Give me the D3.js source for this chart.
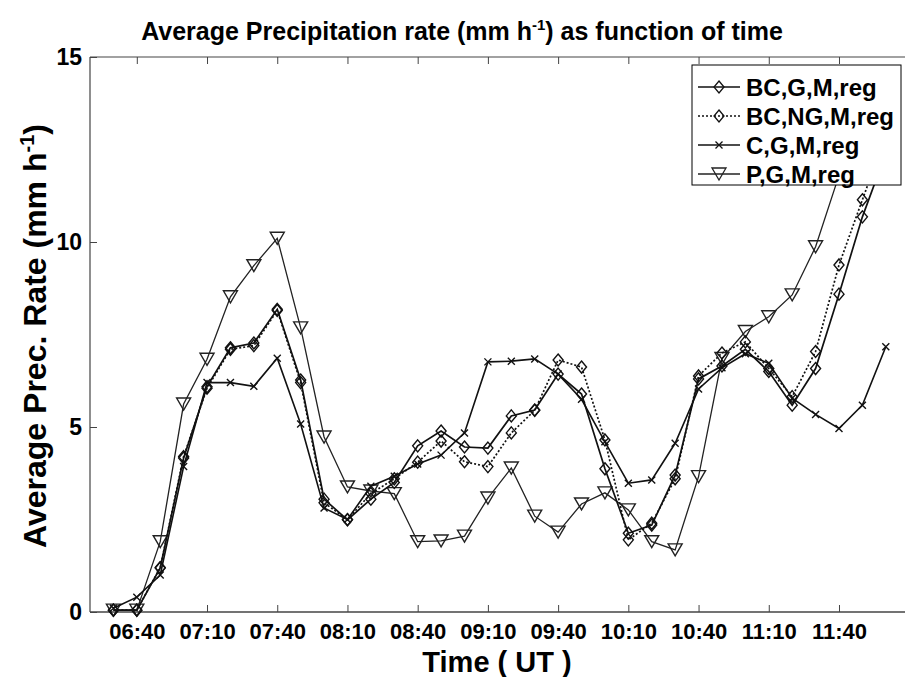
<!DOCTYPE html>
<html><head><meta charset="utf-8">
<script src="https://cdn.jsdelivr.net/npm/d3@7"></script>
<style>
html,body{margin:0;padding:0;background:#fff;overflow:hidden}
text{font-family:"Liberation Sans",Arial,sans-serif;font-weight:bold;fill:#000}
</style></head>
<body><svg id="c" width="905" height="677"></svg>
<script>
// ---- data ----
const times = ["06:30","06:40","06:50","07:00","07:10","07:20","07:30","07:40","07:50","08:00",
  "08:10","08:20","08:30","08:40","08:50","09:00","09:10","09:20","09:30","09:40",
  "09:50","10:00","10:10","10:20","10:30","10:40","10:50","11:00","11:10","11:20",
  "11:30","11:40","11:50","12:00"];
const bcG  = [0.05,0.05,1.19,4.16,6.09,7.14,7.27,8.18,6.27,3.05,2.49,3.05,3.5,4.49,4.89,4.46,4.43,5.3,5.46,6.43,5.89,3.87,2.13,2.35,3.7,6.3,6.65,7.1,6.5,5.59,6.58,8.59,10.68,12.4];
const bcNG = [0.05,0.05,1.2,4.2,6.05,7.1,7.2,8.15,6.2,2.95,2.5,3.2,3.6,4.05,4.62,4.06,3.93,4.84,5.45,6.81,6.62,4.65,1.95,2.4,3.6,6.38,7.0,7.3,6.58,5.82,7.04,9.38,11.14,12.9];
const cGM  = [0.1,0.4,1.0,3.93,6.2,6.2,6.1,6.86,5.08,2.81,2.5,3.4,3.67,4.0,4.24,4.84,6.76,6.78,6.84,6.43,5.75,4.6,3.48,3.57,4.56,6.03,6.6,6.98,6.72,5.78,5.34,4.96,5.59,7.17];
const pGM  = [0.05,0.05,1.9,5.62,6.83,8.52,9.36,10.1,7.68,4.73,3.38,3.27,3.2,1.9,1.92,2.05,3.08,3.89,2.59,2.16,2.92,3.22,2.76,1.9,1.68,3.66,6.85,7.58,7.98,8.57,9.87,11.8];
const xTickLabels = ["06:40","07:10","07:40","08:10","08:40","09:10","09:40","10:10","10:40","11:10","11:40"];
const yTicks = [0,5,10,15];
const seriesNames = ["BC,G,M,reg","BC,NG,M,reg","C,G,M,reg","P,G,M,reg"];

// ---- layout ----
const svg = d3.select("#c");
const L = 90, T = 57, B = 612;
const toMin = s => { const [h,m] = s.split(":").map(Number); return h*60+m; };
const x = d3.scaleLinear().domain([380, 740]).range([L, L + 360*2.3406]);
const y = d3.scaleLinear().domain([0, 15]).range([B, T]);
const R = x(740);

const axisColor = "#444";
svg.append("line").attr("x1",L).attr("x2",R).attr("y1",B).attr("y2",B).attr("stroke",axisColor).attr("stroke-width",1.6);
svg.append("line").attr("x1",L).attr("x2",R).attr("y1",T).attr("y2",T).attr("stroke",axisColor).attr("stroke-width",1.2);
svg.append("line").attr("x1",L).attr("x2",L).attr("y1",T).attr("y2",B).attr("stroke",axisColor).attr("stroke-width",1.2);

// x axis (inward ticks)
const xt = xTickLabels.map(toMin);
const xAxis = d3.axisBottom(x).tickValues(xt).tickSize(-7).tickPadding(11)
  .tickFormat((d,i)=>xTickLabels[i]);
const gx = svg.append("g").attr("transform",`translate(0,${B})`).call(xAxis);
gx.select(".domain").remove();
gx.selectAll(".tick line").attr("stroke",axisColor);
gx.selectAll("text").style("font-size","22px").attr("fill","#000");
const gxt = svg.append("g").attr("transform",`translate(0,${T})`).call(d3.axisTop(x).tickValues(xt).tickSize(-7).tickFormat(""));
gxt.select(".domain").remove();
gxt.selectAll(".tick line").attr("stroke",axisColor);

// y axis
const yAxis = d3.axisLeft(y).tickValues(yTicks).tickSize(-7).tickPadding(8);
const gy = svg.append("g").attr("transform",`translate(${L},0)`).call(yAxis);
gy.select(".domain").remove();
gy.selectAll(".tick line").attr("stroke",axisColor);
gy.selectAll("text").style("font-size","23px").attr("fill","#000");

// ---- series ----
const mk = {
  diamond: (g,cx,cy)=>g.append("path").attr("d",`M${cx},${cy-6}L${cx+5},${cy}L${cx},${cy+6}L${cx-5},${cy}Z`),
  cross: (g,cx,cy)=>g.append("path").attr("d",`M${cx-3.5},${cy-3.5}L${cx+3.5},${cy+3.5}M${cx-3.5},${cy+3.5}L${cx+3.5},${cy-3.5}`),
  tri: (g,cx,cy)=>g.append("path").attr("d",`M${cx-7},${cy-6}L${cx+7},${cy-6}L${cx},${cy+6}Z`)
};
const series = [
  {name:seriesNames[0], vals:bcG,  dash:null,  marker:"diamond", w:1.7, col:"#111"},
  {name:seriesNames[1], vals:bcNG, dash:"2,2", marker:"diamond", w:1.7, col:"#111"},
  {name:seriesNames[2], vals:cGM,  dash:null,  marker:"cross",   w:1.6, col:"#111"},
  {name:seriesNames[3], vals:pGM,  dash:null,  marker:"tri",     w:1.3, col:"#222"}
];
const line = d3.line().x(d=>x(d[0])).y(d=>y(d[1]));
series.slice().reverse().forEach(s=>{
  const pts = s.vals.map((v,i)=>[toMin(times[i]), v]);
  svg.append("path").attr("d",line(pts)).attr("fill","none").attr("stroke",s.col)
    .attr("stroke-width",s.w).attr("stroke-dasharray",s.dash);
  const g = svg.append("g").attr("fill","none").attr("stroke",s.col).attr("stroke-width",1.4);
  pts.forEach(p=>mk[s.marker](g, x(p[0]), y(p[1])));
});

// ---- legend ----
const lg = svg.append("g");
lg.append("rect").attr("x",692).attr("y",65).attr("width",209).attr("height",120)
  .attr("fill","#fff").attr("stroke","#000").attr("stroke-width",1);
series.forEach((s,i)=>{
  const cy = 87 + i*29;
  lg.append("line").attr("x1",698).attr("x2",740).attr("y1",cy).attr("y2",cy)
    .attr("stroke",s.col).attr("stroke-width",s.w).attr("stroke-dasharray",s.dash);
  const g = lg.append("g").attr("fill","none").attr("stroke",s.col).attr("stroke-width",1.3);
  mk[s.marker](g,719,cy);
  lg.append("text").attr("x",746).attr("y",cy+9).style("font-size","24px").text(s.name);
});

// ---- titles ----
const title = svg.append("text").attr("x",462).attr("y",40).attr("text-anchor","middle").style("font-size","25px");
title.append("tspan").text("Average Precipitation rate (mm h");
title.append("tspan").attr("dy",-10).style("font-size","15px").text("-1");
title.append("tspan").attr("dy",10).text(") as function of time");

svg.append("text").attr("x",497).attr("y",672).attr("text-anchor","middle").style("font-size","29px").text("Time ( UT )");

const yl = svg.append("text").attr("transform","translate(46,336) rotate(-90)").attr("text-anchor","middle").style("font-size","32px");
yl.append("tspan").text("Average Prec. Rate (mm h");
yl.append("tspan").attr("dy",-12).style("font-size","20px").text("-1");
yl.append("tspan").attr("dy",12).text(")");
</script></body></html>
